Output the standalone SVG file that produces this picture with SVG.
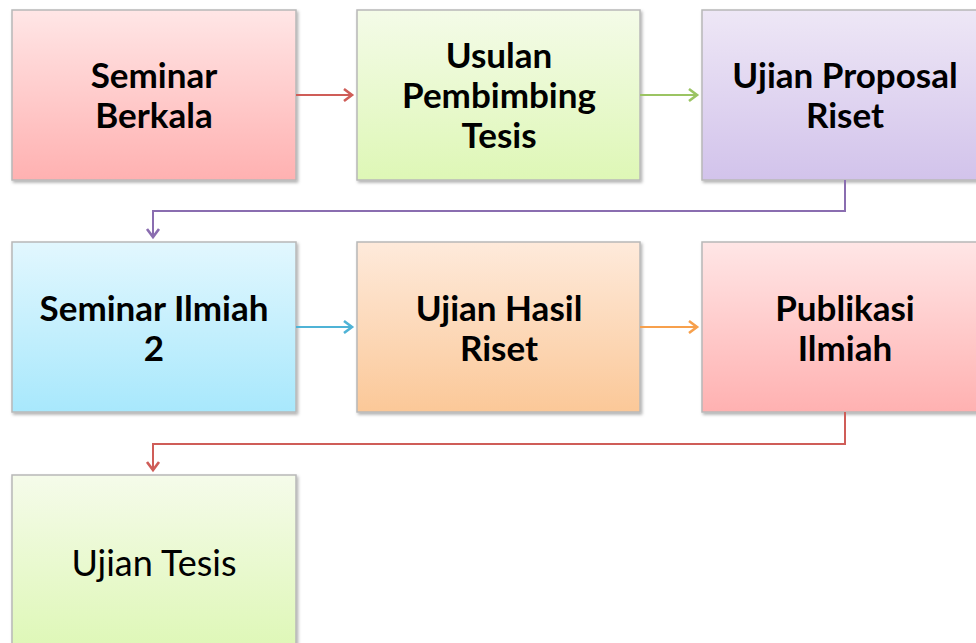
<svg xmlns="http://www.w3.org/2000/svg" width="976" height="643" viewBox="0 0 976 643">
<defs>
<linearGradient id="gRed" x1="0" y1="0" x2="0" y2="1"><stop offset="0" stop-color="#ffe6e6"/><stop offset="1" stop-color="#ffb1b1"/></linearGradient>
<linearGradient id="gGreen" x1="0" y1="0" x2="0" y2="1"><stop offset="0" stop-color="#f4fbe8"/><stop offset="1" stop-color="#def7b6"/></linearGradient>
<linearGradient id="gPurple" x1="0" y1="0" x2="0" y2="1"><stop offset="0" stop-color="#eee7f6"/><stop offset="1" stop-color="#d2c3eb"/></linearGradient>
<linearGradient id="gBlue" x1="0" y1="0" x2="0" y2="1"><stop offset="0" stop-color="#e2f7fe"/><stop offset="1" stop-color="#a8e8fc"/></linearGradient>
<linearGradient id="gOrange" x1="0" y1="0" x2="0" y2="1"><stop offset="0" stop-color="#feeadb"/><stop offset="1" stop-color="#fbc898"/></linearGradient>
<linearGradient id="gGreen2" x1="0" y1="0" x2="0" y2="1"><stop offset="0" stop-color="#f5fbea"/><stop offset="1" stop-color="#dcf7b2"/></linearGradient>
<filter id="sh" x="-5%" y="-5%" width="115%" height="115%"><feDropShadow dx="1.5" dy="2" stdDeviation="1.5" flood-color="#000" flood-opacity="0.3"/></filter>
<marker id="aRed" markerWidth="14" markerHeight="16" refX="11" refY="8" orient="auto" markerUnits="userSpaceOnUse"><path d="M3,2 L11,8 L3,14" fill="none" stroke="#cf5d58" stroke-width="2.6"/></marker>
<marker id="aGreen" markerWidth="14" markerHeight="16" refX="11" refY="8" orient="auto" markerUnits="userSpaceOnUse"><path d="M3,2 L11,8 L3,14" fill="none" stroke="#9bc463" stroke-width="2.6"/></marker>
<marker id="aPurple" markerWidth="14" markerHeight="16" refX="11" refY="8" orient="auto" markerUnits="userSpaceOnUse"><path d="M3,2 L11,8 L3,14" fill="none" stroke="#8a6db0" stroke-width="2.6"/></marker>
<marker id="aBlue" markerWidth="14" markerHeight="16" refX="11" refY="8" orient="auto" markerUnits="userSpaceOnUse"><path d="M3,2 L11,8 L3,14" fill="none" stroke="#4fb3d6" stroke-width="2.6"/></marker>
<marker id="aOrange" markerWidth="14" markerHeight="16" refX="11" refY="8" orient="auto" markerUnits="userSpaceOnUse"><path d="M3,2 L11,8 L3,14" fill="none" stroke="#f7a04c" stroke-width="2.6"/></marker>
</defs>
<style>
.box{stroke:#b8b8b8;stroke-width:1.5;filter:url(#sh)}
.t{font-family:"Lato","Open Sans","Liberation Sans",sans-serif;font-size:35px;font-weight:bold;fill:#000;text-anchor:middle}
.tr{font-family:"Lato","Open Sans","Liberation Sans",sans-serif;font-size:36px;fill:#000;text-anchor:middle}
.c{fill:none;stroke-width:2}
</style>
<rect width="976" height="643" fill="#fff"/>
<g id="n1"><rect class="box" x="12" y="10" width="284" height="170" fill="url(#gRed)"/><text class="t" x="154" y="88">Seminar</text><text class="t" x="154" y="128">Berkala</text></g>
<g id="n2"><rect class="box" x="357" y="10" width="283" height="170" fill="url(#gGreen)"/><text class="t" x="499" y="68">Usulan</text><text class="t" x="499" y="108">Pembimbing</text><text class="t" x="499" y="148">Tesis</text></g>
<g id="n3"><rect class="box" x="702" y="10" width="284" height="170" fill="url(#gPurple)"/><text class="t" x="845" y="88">Ujian Proposal</text><text class="t" x="845" y="128">Riset</text></g>
<g id="n4"><rect class="box" x="12" y="242" width="284" height="170" fill="url(#gBlue)"/><text class="t" x="154" y="321">Seminar Ilmiah</text><text class="t" x="154" y="361">2</text></g>
<g id="n5"><rect class="box" x="357" y="242" width="283" height="170" fill="url(#gOrange)"/><text class="t" x="499" y="321">Ujian Hasil</text><text class="t" x="499" y="361">Riset</text></g>
<g id="n6"><rect class="box" x="702" y="242" width="284" height="170" fill="url(#gRed)"/><text class="t" x="845" y="321">Publikasi</text><text class="t" x="845" y="361">Ilmiah</text></g>
<g id="n7"><rect class="box" x="12" y="475" width="284" height="190" fill="url(#gGreen2)"/><text class="tr" x="154" y="576">Ujian Tesis</text></g>
<g id="connectors">
<path class="c" d="M296,95 H352" stroke="#cf5d58" marker-end="url(#aRed)"/>
<path class="c" d="M640,95 H697" stroke="#9bc463" marker-end="url(#aGreen)"/>
<path class="c" d="M845,180 V211 H153 V237" stroke="#8a6db0" marker-end="url(#aPurple)"/>
<path class="c" d="M296,327 H352" stroke="#4fb3d6" marker-end="url(#aBlue)"/>
<path class="c" d="M640,327 H697" stroke="#f7a04c" marker-end="url(#aOrange)"/>
<path class="c" d="M845,412 V444 H153 V470" stroke="#cf5d58" marker-end="url(#aRed)"/>
</g>
</svg>
